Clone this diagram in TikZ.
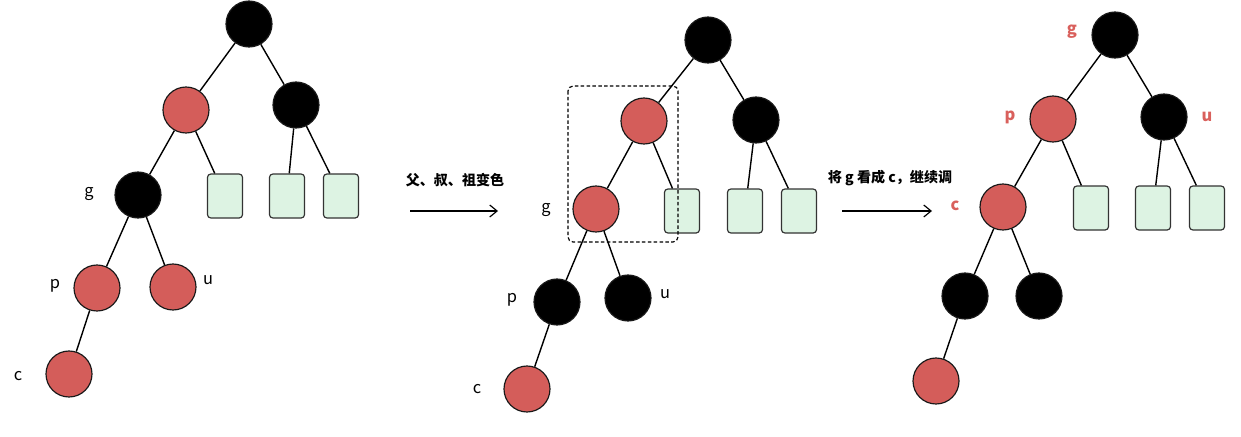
\documentclass[tikz,border=0pt]{standalone}
\usepackage{fontspec}
\setmainfont{Noto Sans CJK SC}
\usetikzlibrary{arrows.meta}
\definecolor{nodered}{HTML}{D45D5A}
\definecolor{leafgreen}{HTML}{DDF3E3}
\definecolor{labelred}{HTML}{D9605C}
\tikzset{
 rb/.style={circle,draw=black!90,line width=1pt,minimum size=13.8mm,inner sep=0pt},
 rednode/.style={rb,fill=nodered},
 blacknode/.style={rb,fill=black},
 leaf/.style={rectangle,rounded corners=1mm,draw=black!80,line width=1pt,fill=leafgreen,minimum width=10.5mm,minimum height=13.2mm,inner sep=0pt},
 tag/.style={font=\fontsize{14}{16}\selectfont},
 redtag/.style={text=labelred,font=\bfseries\fontsize{14}{16}\selectfont},
 note/.style={font=\bfseries\fontsize{12}{14}\selectfont},
 link/.style={line width=1.2pt},
 flow/.style={line width=1pt,-{Straight Barb[length=2.2mm,width=3.6mm]}},
}

\begin{document}
\begin{tikzpicture}[x=0.3mm,y=-0.3mm]
  \useasboundingbox (0,0) rectangle (1241,436);
  % before
  \node[blacknode] (r1) at (249,24) {};
  \node[rednode] (a1) at (186,110) {};
  \node[blacknode] (b1) at (296,105) {};
  \node[blacknode] (g1) at (138,195) {};
  \node[leaf] (l11) at (225,196) {};
  \node[leaf] (l12) at (287,196) {};
  \node[leaf] (l13) at (341,196) {};
  \node[rednode] (p1) at (97,288) {};
  \node[rednode] (u1) at (173,287) {};
  \node[rednode] (c1) at (69,374) {};
  \node[tag] (gt1) at (89,194) {g};
  \node[tag] (pt1) at (55,286) {p};
  \node[tag] (ut1) at (208,280) {u};
  \node[tag] (ct1) at (18,376) {c};
  \path[link] (r1) edge (a1) edge (b1);
  \path[link] (a1) edge (g1) edge (l11);
  \path[link] (b1) edge (l12) edge (l13);
  \path[link] (g1) edge (p1) edge (u1);
  \path[link] (p1) edge (c1);

  % step one
  \coordinate (s1) at (410,211);
  \coordinate (e1) at (498,211);
  \draw[flow] (s1) -- (e1);
  \node[note] (n1) at (455,180) {父、叔、祖变色};

  % after recolouring
  \node[blacknode] (r2) at (708,40) {};
  \node[rednode] (a2) at (644,121) {};
  \node[blacknode] (b2) at (756,120) {};
  \node[rednode] (g2) at (596,209) {};
  \node[leaf] (l21) at (682,211) {};
  \node[leaf] (l22) at (745,211) {};
  \node[leaf] (l23) at (799,211) {};
  \node[blacknode] (p2) at (557,302) {};
  \node[blacknode] (u2) at (628,298) {};
  \node[rednode] (c2) at (527,389) {};
  \node[tag] (gt2) at (546,210) {g};
  \node[tag] (pt2) at (512,300) {p};
  \node[tag] (ut2) at (665,294) {u};
  \node[tag] (ct2) at (477,389) {c};
  \path[link] (r2) edge (a2) edge (b2);
  \path[link] (a2) edge (g2) edge (l21);
  \path[link] (b2) edge (l22) edge (l23);
  \path[link] (g2) edge (p2) edge (u2);
  \path[link] (p2) edge (c2);
  \draw[dash pattern=on 3pt off 2pt,line width=1pt,rounded corners=1.5mm] (568,86) rectangle (678,242);

  % step two
  \coordinate (s2) at (842,211);
  \coordinate (e2) at (932,211);
  \draw[flow] (s2) -- (e2);
  \node[note] (n2) at (890,178) {将 g 看成 c，继续调};

  % moved up
  \node[blacknode] (r3) at (1115,35) {};
  \node[rednode] (a3) at (1053,119) {};
  \node[blacknode] (b3) at (1164,117) {};
  \node[rednode] (g3) at (1003,207) {};
  \node[leaf] (l31) at (1091,208) {};
  \node[leaf] (l32) at (1153,208) {};
  \node[leaf] (l33) at (1207,208) {};
  \node[blacknode] (p3) at (965,296) {};
  \node[blacknode] (u3) at (1039,296) {};
  \node[rednode] (c3) at (936,381) {};
  \node[redtag] (gt3) at (1072,32) {g};
  \node[redtag] (pt3) at (1010,117) {p};
  \node[redtag] (ut3) at (1207,117) {u};
  \node[redtag] (ct3) at (955,206) {c};
  \path[link] (r3) edge (a3) edge (b3);
  \path[link] (a3) edge (g3) edge (l31);
  \path[link] (b3) edge (l32) edge (l33);
  \path[link] (g3) edge (p3) edge (u3);
  \path[link] (p3) edge (c3);
\end{tikzpicture}
\end{document}
